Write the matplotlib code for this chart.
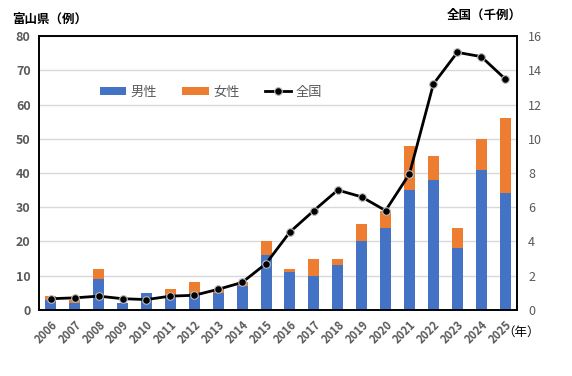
import matplotlib.pyplot as plt
import numpy as np

plt.rcParams['font.family'] = ['Noto Sans CJK JP', 'DejaVu Sans']

# datos
years = [str(y) for y in range(2006, 2026)]
male = [3, 2, 9, 2, 5, 4, 5, 5, 7, 16, 11, 10, 13, 20, 24, 35, 38, 18, 41, 34]
female = [1, 1, 3, 0, 0, 2, 3, 1, 1, 4, 1, 5, 2, 5, 5, 13, 7, 6, 9, 22]
national = [0.65, 0.7, 0.8, 0.65, 0.6, 0.8, 0.85, 1.2, 1.6, 2.7, 4.55, 5.8,
            7.0, 6.6, 5.8, 7.95, 13.2, 15.05, 14.8, 13.5]

BLUE = '#4472C4'
ORANGE = '#ED7D31'
TICK = '#595959'

fig = plt.figure(figsize=(5.72, 3.76), dpi=100)
ax = fig.add_axes([0.068, 0.176, 0.836, 0.728])
ax2 = ax.twinx()

x = np.arange(len(years))
b1 = ax.bar(x, male, width=0.46, color=BLUE, label='男性', zorder=2)
b2 = ax.bar(x, female, width=0.46, bottom=male, color=ORANGE, label='女性', zorder=2)
l1, = ax2.plot(x, national, color='black', lw=2, marker='o', markersize=5.5,
               markerfacecolor='black', markeredgecolor='#bbbbbb',
               markeredgewidth=0.8, label='全国')

ax.set_ylim(0, 80)
ax.set_yticks(range(0, 81, 10))
ax2.set_ylim(0, 16)
ax2.set_yticks(range(0, 17, 2))
ax.set_xlim(-0.5, len(years) - 0.5)
ax.set_xticks(x)
ax.set_xticklabels(years, rotation=45, ha='right', rotation_mode='anchor',
                   fontsize=8, fontweight='bold', color=TICK)
ax.tick_params(axis='x', length=0, pad=6)
ax.tick_params(axis='y', length=0, labelsize=9, labelcolor=TICK, pad=6)
ax2.tick_params(axis='y', length=0, labelsize=9, labelcolor=TICK, pad=8)
for lab in ax.get_yticklabels():
    lab.set_fontweight('bold')

ax.grid(axis='y', color='#d9d9d9', lw=1, zorder=0)
ax.set_axisbelow(True)
for a in (ax, ax2):
    for s in a.spines.values():
        s.set_color('black')
        s.set_linewidth(1.2)

fig.text(0.021, 0.949, '富山県（例）', fontsize=9, fontweight='bold', ha='left', va='center')
fig.text(0.847, 0.96, '全国（千例）', fontsize=9, fontweight='bold', ha='center', va='center')
fig.text(0.911, 0.117, '（年）', fontsize=9, ha='center', va='center', color='black')

ax.legend([b1, b2, l1], ['男性', '女性', '全国'], loc='center',
          bbox_to_anchor=(0.36, 0.795), ncol=3, frameon=False, fontsize=9.5,
          handlelength=2.0, handleheight=0.55, handletextpad=0.35,
          columnspacing=1.9, labelcolor=TICK)

fig.savefig('out.png', dpi=100)
